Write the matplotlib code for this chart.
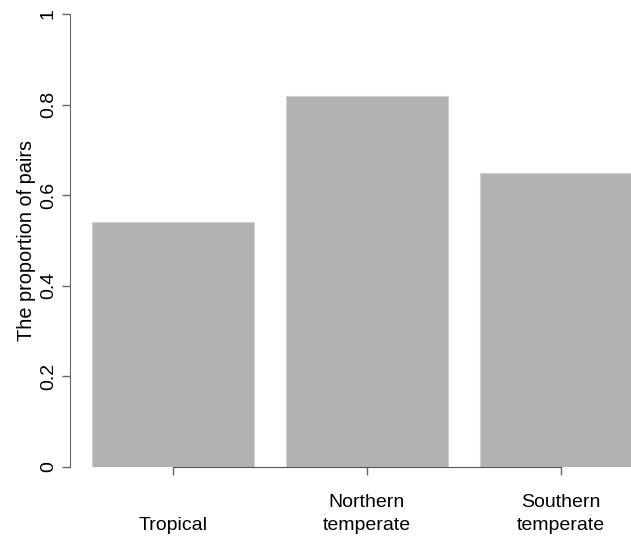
import matplotlib.pyplot as plt

plt.rcParams['font.family'] = ['Liberation Sans', 'DejaVu Sans']

regions = ['\nTropical', 'Northern\ntemperate', 'Southern\ntemperate']
proportions = [0.54, 0.82, 0.65]
y_ticks = [0, 0.2, 0.4, 0.6, 0.8, 1]
y_tick_labels = ['0', '0.2', '0.4', '0.6', '0.8', '1']

W, H = 631, 541
fig = plt.figure(figsize=(W / 100, H / 100), dpi=100)

# plot region in pixels: left 70, right 631, top 14, bottom 467
ax = fig.add_axes([70 / W, 1 - 467 / H, (W - 70) / W, (467 - 14) / H])

# barplot layout: width 1, space 0.2
width = 1.0
space = 0.2
lefts = [space + i * (width + space) for i in range(len(proportions))]
centers = [l + width / 2 for l in lefts]

ax.bar(lefts, proportions, width=width, align='edge', color='#b2b2b2',
       edgecolor='#d0d0d0', linewidth=0.8, zorder=2)

px_per_unit = (286 - 92) / (width + space)
ax.set_xlim(space - (92 - 70) / px_per_unit, space + (W - 92) / px_per_unit)
ax.set_ylim(0, 1)

for s in ['top', 'right']:
    ax.spines[s].set_visible(False)
ax.spines['left'].set_color('#666666')
ax.spines['bottom'].set_color('#555555')
ax.spines['bottom'].set_bounds(centers[0], centers[-1])
ax.spines['left'].set_bounds(0, 1)

ax.set_yticks(y_ticks)
ax.set_yticklabels(y_tick_labels, rotation=90, va='center', fontsize=14)
ax.set_xticks(centers)
ax.set_xticklabels([])
ax.tick_params(axis='both', direction='out', length=6, color='#666666', width=1)
ax.tick_params(axis='y', pad=3.5)

for c, lab in zip(centers, regions):
    ax.text(c, -0.06, lab, ha='center', va='top', fontsize=14,
            linespacing=1.45, transform=ax.get_xaxis_transform(), clip_on=False)

fig.text(27 / W, 1 - 240 / H, 'The proportion of pairs', rotation=90,
         ha='center', va='center', fontsize=14.3)

fig.savefig('out.png', dpi=100)
